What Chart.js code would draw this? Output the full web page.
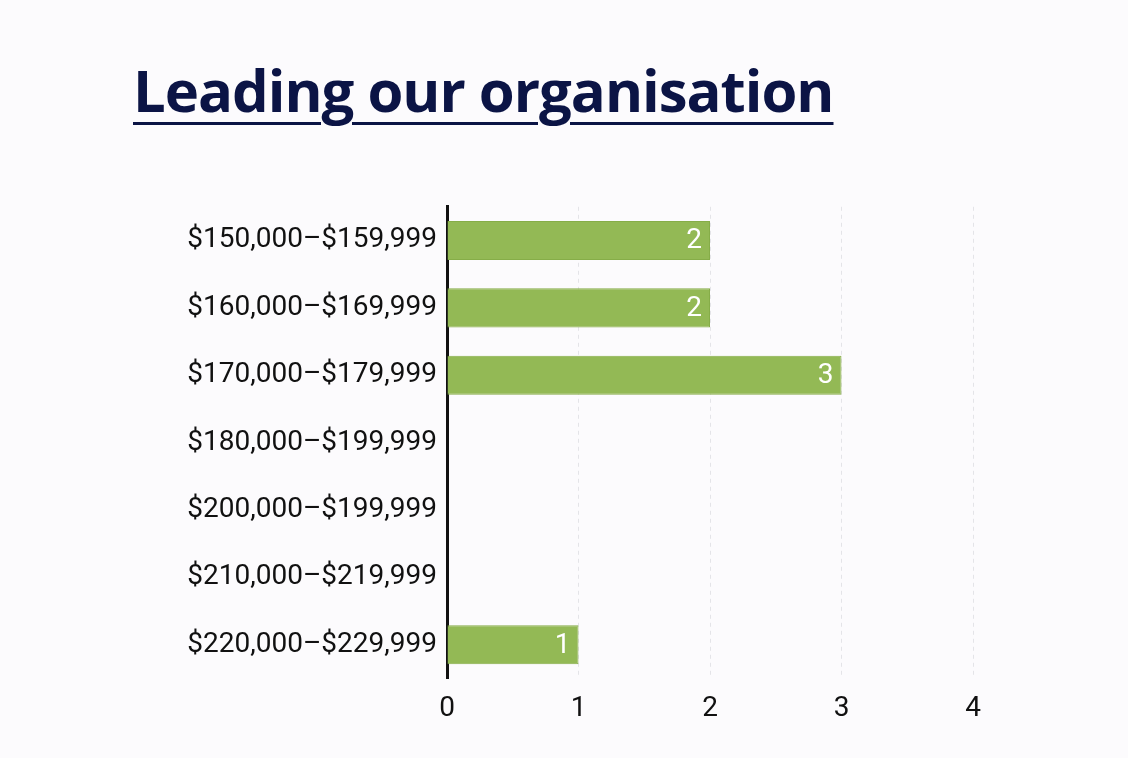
<!DOCTYPE html>
<html>
<head>
<meta charset="utf-8">
<script src="https://cdn.jsdelivr.net/npm/chart.js@4"></script>
<style>
  body { margin: 0; background: #fcfbfd; width: 1128px; height: 758px; overflow: hidden; font-family: Roboto, sans-serif; }
  h1 { position: absolute; left: 133px; top: 50px; margin: 0; font-family: "Open Sans", sans-serif; font-weight: 700; font-size: 58px; color: #0b1445; text-decoration: underline; text-decoration-thickness: 3px; text-underline-offset: 10px; letter-spacing: -1px; }
  #wrap { position: absolute; left: 0; top: 180px; width: 1128px; height: 560px; }
</style>
</head>
<body>
<h1>Leading our organisation</h1>
<div id="wrap"><canvas id="c"></canvas></div>
<script>
const categories = ["$150,000–$159,999", "$160,000–$169,999", "$170,000–$179,999", "$180,000–$199,999", "$200,000–$199,999", "$210,000–$219,999", "$220,000–$229,999"];
const counts = [2, 2, 3, 0, 0, 0, 1];
const xTicks = [0, 1, 2, 3, 4];

const valueLabels = {
  id: 'valueLabels',
  afterDatasetsDraw(chart) {
    const ctx = chart.ctx;
    const meta = chart.getDatasetMeta(0);
    ctx.save();
    ctx.fillStyle = '#ffffff';
    ctx.font = '28px Roboto';
    ctx.textAlign = 'right';
    ctx.textBaseline = 'middle';
    meta.data.forEach((bar, i) => {
      if (counts[i] > 0) ctx.fillText(counts[i], bar.x - 8, bar.y + 1);
    });
    ctx.restore();
  }
};

new Chart(document.getElementById('c'), {
  type: 'bar',
  data: {
    labels: categories,
    datasets: [{
      data: counts,
      backgroundColor: '#93b955',
      borderColor: '#86ad48',
      borderWidth: 1,
      barPercentage: 0.58,
      categoryPercentage: 1
    }]
  },
  options: {
    indexAxis: 'y',
    responsive: true,
    maintainAspectRatio: false,
    animation: false,
    layout: { padding: { top: 14, right: 155, bottom: 0, left: 0 } },
    plugins: { legend: { display: false }, tooltip: { enabled: false } },
    scales: {
      y: {
        afterFit(scale) { scale.width = 447; },
        grid: { display: false, drawTicks: false },
        border: { color: '#111', width: 3 },
        ticks: { color: '#111', font: { size: 28, family: 'Roboto' }, padding: 10 }
      },
      x: {
        min: 0, max: 4,
        afterBuildTicks(scale) { scale.ticks = xTicks.map(v => ({ value: v })); },
        grid: { color: '#e4e4e8', drawTicks: false, lineWidth: 1 },
        border: { display: false, dash: [4, 4] },
        ticks: { color: '#111', font: { size: 28, family: 'Roboto' }, padding: 14 }
      }
    }
  },
  plugins: [valueLabels]
});
</script>
</body>
</html>
